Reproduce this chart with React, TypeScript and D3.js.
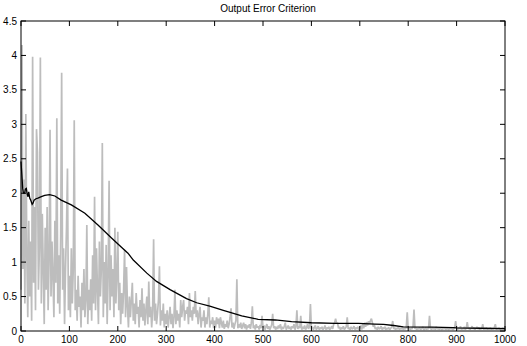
import React from "react";
import * as d3 from "d3";

const TITLE = "Output Error Criterion";
const X_TICKS = [0, 100, 200, 300, 400, 500, 600, 700, 800, 900, 1000];
const Y_TICKS = [0, 0.5, 1, 1.5, 2, 2.5, 3, 3.5, 4, 4.5];

// gray noisy series, sampled every 2 iterations (x = 0, 2, 4, ... 998)
const NOISE_STEP = 2;
const noise0 = [0.6,4.15,0.9,2.2,0.4,3.15,1.1,0.2,1.6,0.5,1.3,0.15,3.98,0.7,1.8,0.3,2.93,2.59,0.6,1.2,3.97,0.4,1.7,0.9,0.1,1.5,0.6,1.8,0.3,1.0,2.92,0.5,1.3,0.8,0.2,1.6,0.7,3.09,0.4,1.1,0.25,1.4,3.75,0.6,1.2,0.1,0.9,1.5,2.36,0.3];
const noise1 = [0.8,0.2,1.2,0.4,0.9,3.06,0.3,0.6,0.15,0.8,0.35,0.5,0.05,0.7,0.3,0.9,0.2,0.45,1.54,0.1,0.6,0.3,0.75,0.15,1.1,0.4,1.95,0.3,1.2,0.6,0.1,1.3,0.5,0.9,2.73,0.2,1.0,0.4,1.25,0.1,0.8,2.18,0.3,1.1,0.5,0.9,0.2,1.5,0.4,0.8];
const noise2 = [1.44,0.3,0.7,0.1,0.55,0.25,0.6,1.18,0.2,0.93,0.35,0.05,0.5,0.2,0.45,0.7,0.15,0.4,0.1,0.55,0.25,0.35,0.05,0.45,0.2,0.62,0.15,0.4,0.08,0.3,0.5,0.1,0.72,0.2,0.35,0.05,0.3,1.33,0.15,0.4,0.1,0.25,0.45,0.94,0.08,0.3,0.15,0.4,0.05,0.25];
const noise3 = [0.1,0.3,0.05,0.2,0.35,0.1,0.25,0.04,0.2,0.6,0.1,0.3,0.15,0.25,0.05,0.45,0.2,0.35,0.45,0.15,0.3,0.25,0.35,0.1,0.55,0.2,0.3,0.15,0.35,0.25,0.58,0.2,0.3,0.1,0.25,0.35,0.05,0.2,0.15,0.3,0.05,0.2,0.1,0.25,0.49,0.05,0.15,0.1,0.2,0.04];
const noise4 = [0.15,0.05,0.2,0.1,0.18,0.04,0.2,0.12,0.05,0.15,0.03,0.1,0.06,0.15,0.04,0.1,0.2,0.33,0.05,0.12,0.03,0.1,0.15,0.75,0.04,0.1,0.05,0.12,0.03,0.08,0.12,0.04,0.1,0.02,0.08,0.05,0.1,0.03,0.12,0.36,0.04,0.08,0.02,0.1,0.05,0.07,0.02,0.09,0.04,0.22];
const noise5 = [0.05,0.08,0.02,0.06,0.1,0.03,0.07,0.02,0.05,0.09,0.25,0.04,0.07,0.02,0.06,0.03,0.08,0.04,0.1,0.02,0.06,0.03,0.07,0.12,0.02,0.05,0.08,0.03,0.06,0.02,0.07,0.04,0.1,0.02,0.06,0.3,0.03,0.07,0.04,0.22,0.02,0.06,0.03,0.08,0.02,0.05,0.1,0.03,0.06,0.39];
const noise6 = [0.03,0.06,0.02,0.05,0.08,0.02,0.04,0.07,0.02,0.05,0.03,0.06,0.02,0.04,0.08,0.02,0.05,0.03,0.06,0.02,0.04,0.07,0.03,0.1,0.12,0.18,0.11,0.12,0.04,0.06,0.02,0.05,0.03,0.07,0.02,0.04,0.06,0.2,0.03,0.05,0.02,0.06,0.03,0.04,0.07,0.02,0.05,0.03,0.06,0.02];
const noise7 = [0.05,0.08,0.02,0.1,0.04,0.12,0.06,0.13,0.08,0.14,0.1,0.15,0.18,0.12,0.06,0.09,0.03,0.05,0.02,0.06,0.03,0.04,0.07,0.02,0.05,0.03,0.06,0.02,0.04,0.03,0.05,0.02,0.04,0.06,0.145,0.03,0.05,0.02,0.04,0.03,0.06,0.02,0.04,0.03,0.05,0.02,0.04,0.03,0.05,0.27];
const noise8 = [0.03,0.05,0.02,0.04,0.03,0.06,0.31,0.03,0.05,0.02,0.04,0.03,0.05,0.02,0.04,0.06,0.02,0.03,0.05,0.02,0.04,0.03,0.22,0.04,0.02,0.05,0.03,0.04,0.02,0.06,0.03,0.04,0.02,0.05,0.03,0.02,0.04,0.03,0.05,0.02,0.04,0.03,0.02,0.05,0.03,0.04,0.02,0.03,0.05,0.145];
const noise9 = [0.04,0.02,0.05,0.03,0.07,0.02,0.04,0.03,0.06,0.02,0.04,0.13,0.03,0.05,0.02,0.04,0.07,0.03,0.05,0.02,0.04,0.06,0.03,0.05,0.02,0.04,0.03,0.1,0.02,0.04,0.03,0.05,0.02,0.04,0.03,0.05,0.02,0.04,0.03,0.05,0.1,0.02,0.04,0.03,0.05,0.02,0.04,0.03,0.05,0.02];
const noiseValues = [...noise0, ...noise1, ...noise2, ...noise3, ...noise4, ...noise5, ...noise6, ...noise7, ...noise8, ...noise9];

// black smooth criterion curve
const curveX = [0,1,3.5,5,7.6,9,11,13,14.5,16,18,20,23,25,27,31,35,42,49,59,70,83,104,132,159,187,207,221,232,260,280,308,342,363,390,418,432,456,490,525,559,600,649,697,731,749,770,790,850,893,900,950,1000];
const curveY = [2.46,2.35,2.07,2.0,2.0,2.06,2.07,1.98,1.95,2.02,1.93,1.9,1.84,1.86,1.9,1.92,1.93,1.95,1.97,1.98,1.96,1.9,1.83,1.71,1.54,1.35,1.22,1.13,1.03,0.84,0.72,0.6,0.47,0.41,0.36,0.3,0.27,0.22,0.17,0.16,0.135,0.12,0.11,0.11,0.1,0.097,0.08,0.06,0.055,0.05,0.045,0.04,0.035];

const W = 527;
const H = 346;
const M = { left: 21, top: 21, right: 505, bottom: 331 };

export default function App() {
  const x = d3.scaleLinear().domain([0, 1000]).range([M.left, M.right]);
  const y = d3.scaleLinear().domain([0, 4.5]).range([M.bottom, M.top]);

  const noisePts: [number, number][] = noiseValues.map((v, i) => [i * NOISE_STEP, v]);
  const curvePts: [number, number][] = curveX.map((xv, i) => [xv, curveY[i]]);
  const line = d3
    .line<[number, number]>()
    .x((d) => x(d[0]))
    .y((d) => y(d[1]));

  const font = "'Liberation Sans', Arial, Helvetica, sans-serif";
  const tl = 5;

  return (
    <svg
      width={W}
      height={H}
      style={{ position: "absolute", left: 0, top: 0, background: "#fff" }}
      fontFamily={font}
    >
      <rect x={0} y={0} width={W} height={H} fill="#fff" />
      <path d={line(noisePts) || ""} fill="none" stroke="#bdbdbd" strokeWidth={1.7} strokeLinejoin="bevel" />
      <path d={line(curvePts) || ""} fill="none" stroke="#000" strokeWidth={1.3} />
      <rect
        x={M.left}
        y={M.top}
        width={M.right - M.left}
        height={M.bottom - M.top}
        fill="none"
        stroke="#000"
        strokeWidth={1}
      />
      {X_TICKS.map((t) => (
        <g key={"x" + t}>
          <line x1={x(t)} x2={x(t)} y1={M.bottom} y2={M.bottom - tl} stroke="#000" />
          <line x1={x(t)} x2={x(t)} y1={M.top} y2={M.top + tl} stroke="#000" />
          <text x={x(t)} y={343} fontSize={10} textAnchor="middle" fill="#000">
            {t}
          </text>
        </g>
      ))}
      {Y_TICKS.map((t) => (
        <g key={"y" + t}>
          <line x1={M.left} x2={M.left + tl} y1={y(t)} y2={y(t)} stroke="#000" />
          <line x1={M.right} x2={M.right - tl} y1={y(t)} y2={y(t)} stroke="#000" />
          <text x={17} y={y(t) + 3.5} fontSize={10} textAnchor="end" fill="#000">
            {t}
          </text>
        </g>
      ))}
      <text x={268} y={12} fontSize={10} textAnchor="middle" fill="#000">
        {TITLE}
      </text>
    </svg>
  );
}
